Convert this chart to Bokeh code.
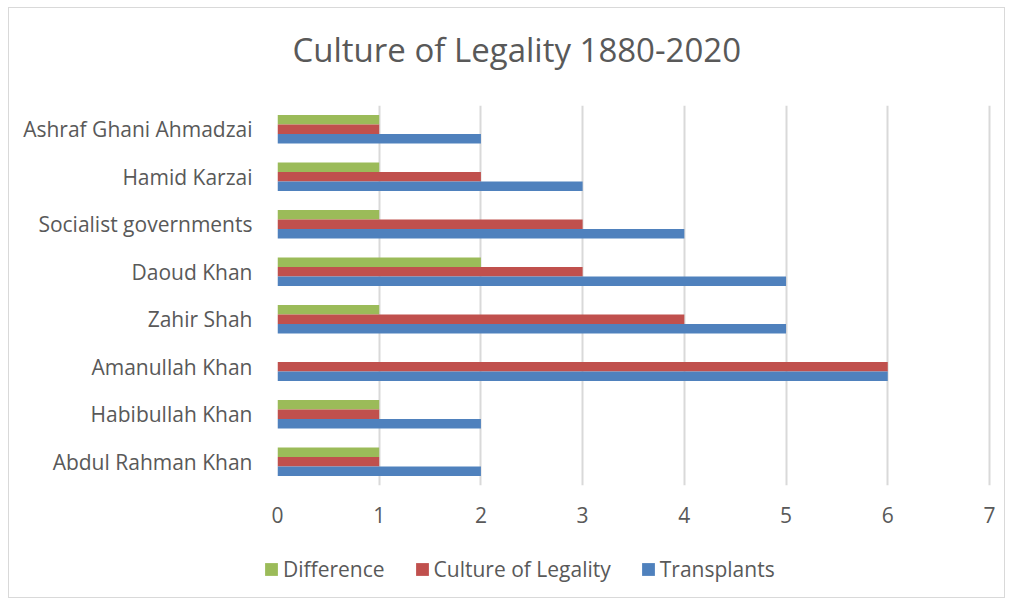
from bokeh.plotting import figure
from bokeh.layouts import column
from bokeh.models import ColumnDataSource, Legend, LegendItem, FixedTicker, FactorRange, Range1d, Label
from bokeh.transform import dodge
from bokeh.embed import file_html
from bokeh.resources import INLINE

categories = ["Abdul Rahman Khan", "Habibullah Khan", "Amanullah Khan", "Zahir Shah",
              "Daoud Khan", "Socialist governments", "Hamid Karzai", "Ashraf Ghani Ahmadzai"]
difference = [1, 1, 0, 1, 2, 1, 1, 1]
culture_of_legality = [1, 1, 6, 4, 3, 3, 2, 1]
transplants = [2, 2, 6, 5, 5, 4, 3, 2]
x_ticks = [0, 1, 2, 3, 4, 5, 6, 7]
series_names = ["Difference", "Culture of Legality", "Transplants"]
series_fields = ["diff", "cul", "tra"]
series_colors = ["#9BBB59", "#C0504D", "#4F81BD"]
title_text = "Culture of Legality 1880-2020"

FONT = "Open Sans"
TXT = "#595959"
W = 995

src = ColumnDataSource(dict(cat=categories, diff=difference, cul=culture_of_legality, tra=transplants))


def no_align(fig):
    if "frame_align" in fig.properties():
        fig.frame_align = False
        return True
    return False


# title strip
T = figure(width=W, height=97, output_backend="svg", toolbar_location=None,
           x_range=Range1d(0, W), y_range=Range1d(0, 97),
           x_axis_location=None, y_axis_location=None, min_border=0)
T.outline_line_color = None
T.grid.visible = False
free = no_align(T)
T.add_layout(Label(x=283 if free else 15, y=56, text=title_text, text_align="left",
                   text_baseline="alphabetic", text_font=FONT, text_font_size="33px",
                   text_color=TXT))

# main chart
p = figure(width=W, height=440, output_backend="svg", toolbar_location=None,
           y_range=FactorRange(factors=categories), x_range=Range1d(0, 7.02),
           min_border_left=268, min_border_right=13, min_border_top=0, min_border_bottom=60)
p.outline_line_color = None

bh = 0.2
offsets = [0.2, 0.0, -0.2]
for fld, col, off in zip(series_fields, series_colors, offsets):
    p.hbar(y=dodge("cat", off, range=p.y_range), right=fld, left=0, height=bh, source=src,
           fill_color=col, line_color=None)

p.xaxis.ticker = FixedTicker(ticks=x_ticks)
for ax in (p.xaxis[0], p.yaxis[0]):
    ax.axis_line_color = None
    ax.major_tick_line_color = None
    ax.minor_tick_line_color = None
    ax.major_label_text_font = FONT
    ax.major_label_text_font_size = "21px"
    ax.major_label_text_color = TXT
p.xaxis.major_label_standoff = 15
p.yaxis.major_label_standoff = 19

p.xgrid.grid_line_color = "#d9d9d9"
p.xgrid.grid_line_width = 2
p.ygrid.grid_line_color = None

# legend strip (its bars lie outside its own x range, only the swatches show)
L = figure(width=W, height=52, output_backend="svg", toolbar_location=None,
           x_range=Range1d(-2, -1), y_range=Range1d(0, 1),
           x_axis_location=None, y_axis_location=None, min_border=0)
L.outline_line_color = None
L.grid.visible = False
free_l = no_align(L)
no_align(p)
items = []
for name, fld, col in zip(series_names, series_fields, series_colors):
    r = L.hbar(y=0.5, right=fld, left=0, height=0.2, source=src, fill_color=col, line_color=None)
    items.append(LegendItem(label=name, renderers=[r]))
legend = Legend(items=items, location=(254 if free_l else 0, 14), orientation="horizontal",
                glyph_width=16, glyph_height=16, label_standoff=4, spacing=29,
                padding=0, margin=0, border_line_color=None, background_fill_alpha=0,
                label_text_font=FONT, label_text_font_size="21px", label_text_color=TXT)
L.add_layout(legend, "center")

layout = column(T, p, L, spacing=0, margin=(7, 0, 0, 8),
                styles={"border": "1px solid #d9d9d9"})

open("out.html", "w").write(file_html(layout, INLINE))
